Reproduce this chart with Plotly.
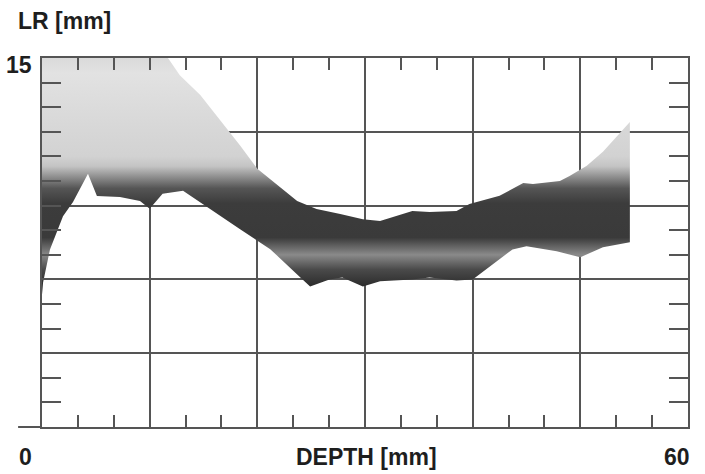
import plotly.graph_objects as go

# Upper boundary of LR band (DEPTH mm, LR mm)
upper_depth = [0, 11.7, 12.8, 14.7, 18.4, 20.0, 23.7, 25.5, 27.7, 29.8, 31.4, 33.0,
               34.4, 36.0, 38.5, 39.7, 42.5, 44.7, 45.6, 48.1, 49.0, 50.6, 52.1, 54.6]
upper_lr = [15, 15, 14.3, 13.5, 11.44, 10.5, 9.19, 8.86, 8.66, 8.45, 8.37, 8.58,
            8.78, 8.74, 8.78, 9.07, 9.4, 9.92, 9.88, 10.0, 10.2, 10.62, 11.19, 12.4]

# Lower boundary of LR band
lower_depth = [0, 0.1, 0.74, 1.95, 2.88, 4.27, 5.1, 7.24, 9.1, 10.0, 11.2, 13.1, 14.7,
               18.4, 21.2, 23.7, 24.9, 26.7, 27.9, 29.8, 31.4, 34.4, 36.0, 38.5, 40.0,
               43.7, 45.0, 47.8, 50.0, 52.1, 54.6]
lower_lr = [5.39, 5.87, 7.22, 8.57, 9.15, 10.29, 9.39, 9.35, 9.19, 8.87, 9.48, 9.6, 9.15,
            8.04, 7.23, 6.2, 5.71, 6.0, 6.08, 5.71, 5.92, 6.0, 6.08, 5.96, 6.0,
            7.22, 7.35, 7.14, 6.9, 7.31, 7.51]

x_range = [0, 60]
y_range = [0, 15]

poly_x = upper_depth + lower_depth[::-1]
poly_y = upper_lr + lower_lr[::-1]

gradient = [
    [0.00, "#1c1c1c"],
    [0.06, "#262626"],
    [0.14, "#4a4a4a"],
    [0.20, "#8a8a8a"],
    [0.27, "#3a3a3a"],
    [0.41, "#3c3c3c"],
    [0.47, "#555555"],
    [0.56, "#c4c4c4"],
    [0.60, "#d2d2d2"],
    [0.94, "#e2e2e2"],
    [1.00, "#dadada"],
]

fig = go.Figure()
fig.add_trace(go.Scatter(
    x=poly_x, y=poly_y, mode="lines", fill="toself",
    line=dict(width=0, color="rgba(0,0,0,0)"),
    fillgradient=dict(type="vertical", colorscale=gradient, start=5, stop=15),
    hoverinfo="skip", showlegend=False,
))

axis_col = "#555555"
fig.update_xaxes(
    range=x_range, showticklabels=False, zeroline=False,
    showline=True, linecolor=axis_col, linewidth=2, mirror="allticks",
    dtick=10, tick0=0, showgrid=True, gridcolor=axis_col, gridwidth=1.5,
    ticks="inside", ticklen=12, tickcolor=axis_col, tickwidth=1.5,
    minor=dict(dtick=10/3, tick0=0, ticks="inside", ticklen=12,
               tickcolor=axis_col, tickwidth=1.5, showgrid=False),
)
fig.update_yaxes(
    range=y_range, showticklabels=False, zeroline=False,
    showline=True, linecolor=axis_col, linewidth=2, mirror="allticks",
    dtick=3, tick0=0, showgrid=True, gridcolor=axis_col, gridwidth=1.5,
    ticks="inside", ticklen=19, tickcolor=axis_col, tickwidth=1.5,
    minor=dict(dtick=1, tick0=0, ticks="inside", ticklen=19,
               tickcolor=axis_col, tickwidth=1.5, showgrid=False),
)

font = dict(family="Liberation Sans, Arial, sans-serif", size=23, color="#1e1e1e")
labels = [
    ("0", -0.0248, -0.082),
    ("60", 0.983, -0.080),
    ("DEPTH [mm]", 0.503, -0.082),
    ("15", -0.0356, 0.980),
    ("LR [mm]", 0.0356, 1.10),
]
for txt, px, py in labels:
    fig.add_annotation(text="<b>" + txt + "</b>", x=px, y=py, xref="paper", yref="paper",
                       xanchor="center", yanchor="middle", showarrow=False, font=font)

# bottom axis line extends left past the origin
fig.add_shape(type="line", xref="paper", yref="paper", x0=-0.037, x1=0, y0=0, y1=0,
              line=dict(color=axis_col, width=2))

fig.update_layout(
    width=705, height=474,
    margin=dict(l=42, r=17, t=58, b=47),
    paper_bgcolor="white", plot_bgcolor="white",
    showlegend=False,
)

fig.write_html("out.html", config={"displayModeBar": False},
               post_script="document.body.style.margin='0px';")
